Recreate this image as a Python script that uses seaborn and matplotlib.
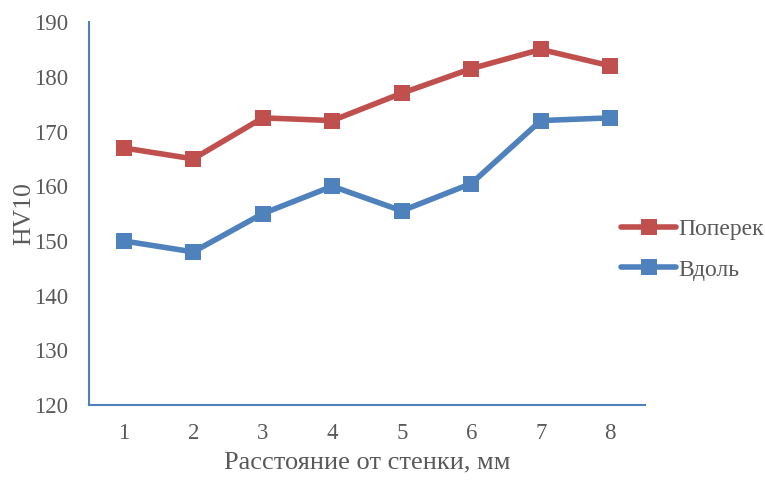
import pandas as pd
import seaborn as sns
import matplotlib.pyplot as plt

distance = [1, 2, 3, 4, 5, 6, 7, 8]
poperek = [167, 165, 172.5, 172, 177, 181.5, 185, 182]
vdol = [150, 148, 155, 160, 155.5, 160.5, 172, 172.5]
series_names = ['Поперек', 'Вдоль']

df = pd.DataFrame({
    'x': distance * 2,
    'hv': poperek + vdol,
    'series': [series_names[0]] * len(distance) + [series_names[1]] * len(distance),
})

sns.set_style('white')
plt.rcParams['font.family'] = ['Liberation Serif', 'DejaVu Serif']

fig = plt.figure(figsize=(7.65, 4.8), dpi=100)
ax = fig.add_axes([0.1163, 0.156, 0.727, 0.798])

palette = {'Поперек': '#C0504D', 'Вдоль': '#4F81BD'}
sns.lineplot(data=df, x='x', y='hv', hue='series', style='series',
             markers={'Поперек': 's', 'Вдоль': 's'}, dashes=False,
             palette=palette, linewidth=4, markersize=11,
             markeredgewidth=0, ax=ax)

ax.set_xlim(0.5, 8.5)
ax.set_ylim(120, 190)
ax.set_xticks(distance)
ax.set_yticks(range(120, 191, 10))
ax.tick_params(axis='y', length=0, labelsize=16.5, colors='#595959', pad=15)
ax.tick_params(axis='x', length=0, labelsize=16.5, colors='#595959', pad=13)
ax.set_xlabel('Расстояние от стенки, мм', fontsize=19, color='#595959', labelpad=5)
ax.set_ylabel('HV10', fontsize=18.5, color='#595959', labelpad=-1)

for side in ['top', 'right']:
    ax.spines[side].set_visible(False)
for side in ['left', 'bottom']:
    ax.spines[side].set_color('#4F81BD')
    ax.spines[side].set_linewidth(1.5)

handles, labels = ax.get_legend_handles_labels()
ax.legend_.remove()
fig.legend(handles, labels, loc='center left', bbox_to_anchor=(0.80, 0.48),
           frameon=False, fontsize=17, handlelength=2.3, handletextpad=0.1,
           labelspacing=0.8, labelcolor='#595959', borderaxespad=0)

plt.savefig('out.png', dpi=100)
plt.close()
